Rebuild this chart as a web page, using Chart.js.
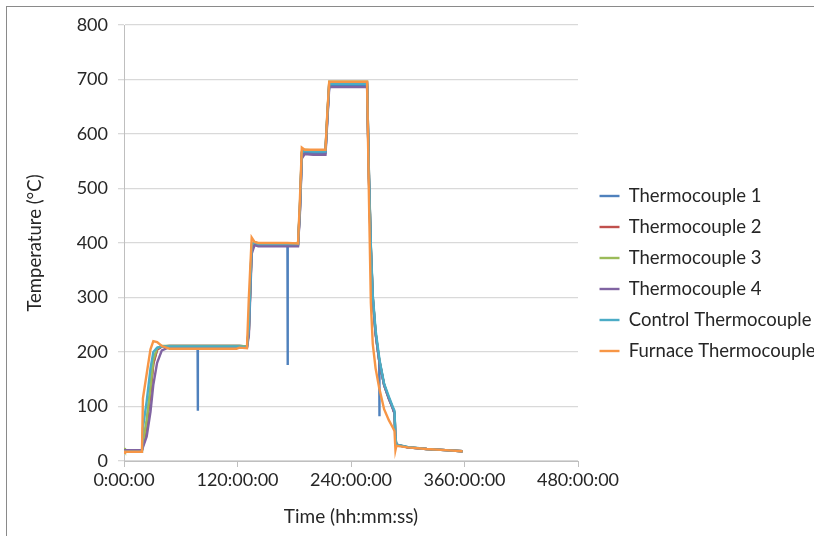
<!DOCTYPE html>
<html>
<head>
<meta charset="utf-8">
<script src="https://cdn.jsdelivr.net/npm/chart.js@4"></script>
<style>
  html, body { margin: 0; padding: 0; background: #fff; overflow: hidden; }
  #frame { position: absolute; left: 6px; top: 6px; width: 900px; height: 600px; border: 1px solid #8a8a8a; }
  #wrap { position: absolute; left: 0; top: 0; width: 814px; height: 536px; }
</style>
</head>
<body>
<div id="frame"></div>
<div id="wrap"><canvas id="tempChart" width="814" height="536"></canvas></div>
<script>
// time axis in hours (shared by all series)
const hours = [0, 1, 19, 20, 24, 28, 31, 35, 40, 48,
  60, 77.8, 78, 78.2, 119, 122, 130, 132, 135, 138,
  142, 172.8, 173, 173.2, 184, 186, 188, 191, 200, 213,
  215, 217, 257, 259, 261, 263, 266, 269.8, 270, 270.2,
  275, 280, 284, 286, 287, 288, 300, 320, 340, 358];

const seriesNames = ['Thermocouple 1', 'Thermocouple 2', 'Thermocouple 3', 'Thermocouple 4', 'Control Thermocouple', 'Furnace Thermocouple'];
const seriesColors = ['#4F81BD', '#C0504D', '#9BBB59', '#8064A2', '#4BACC6', '#F79646'];

const tc1 = [20, 20, 20, 30, 70, 130, 180, 205, 210, 211,
  211, 211, 92, 211, 211, 211, 210, 240, 390, 399,
  396, 396, 176, 396, 396, 460, 560, 566, 565, 565,
  630, 690, 690, 520, 390, 300, 235, 185, 82, 183,
  140, 115, 98, 88, 40, 30, 25, 22, 20, 18];
const tc2 = [20, 20, 20, 28, 65, 125, 178, 204, 210, 211,
  211, 211, 211, 211, 211, 211, 210, 238, 392, 401,
  398, 398, 398, 398, 398, 462, 565, 570, 569, 569,
  632, 694, 694, 520, 390, 300, 235, 185, 184, 183,
  140, 115, 98, 88, 40, 30, 25, 22, 20, 18];
const tc3 = [24, 20, 20, 32, 75, 135, 185, 207, 211, 211,
  211, 211, 211, 211, 211, 211, 210, 240, 395, 402,
  399, 399, 399, 399, 399, 465, 568, 571, 570, 570,
  635, 696, 696, 520, 390, 300, 235, 185, 184, 183,
  140, 115, 98, 88, 40, 30, 25, 22, 20, 18];
const tc4 = [20, 20, 20, 25, 45, 90, 140, 180, 203, 209,
  209, 209, 209, 209, 209, 209, 208, 230, 380, 396,
  394, 394, 394, 394, 394, 455, 555, 563, 562, 562,
  625, 686, 686, 515, 385, 298, 233, 184, 183, 182,
  139, 114, 97, 87, 40, 30, 25, 22, 20, 18];
const control = [17, 17, 17, 60, 110, 170, 200, 208, 210, 210,
  210, 210, 210, 210, 210, 210, 209, 245, 398, 401,
  398, 398, 398, 398, 398, 468, 566, 569, 568, 568,
  635, 692, 692, 525, 395, 305, 240, 190, 188, 186,
  142, 118, 100, 92, 45, 30, 26, 22, 20, 18];
const furnace = [15, 17, 17, 115, 160, 205, 220, 218, 211, 206,
  206, 206, 206, 206, 206, 208, 207, 300, 410, 402,
  400, 400, 400, 400, 399, 480, 575, 571, 571, 571,
  640, 696, 696, 480, 290, 215, 170, 134, 133, 132,
  95, 75, 62, 55, 20, 28, 25, 22, 20, 18];

const xTickLabels = ['0:00:00', '120:00:00', '240:00:00', '360:00:00', '480:00:00'];
const yTicks = [0, 100, 200, 300, 400, 500, 600, 700, 800];

const allSeries = [tc1, tc2, tc3, tc4, control, furnace];
const FONT = 'Lato, "Open Sans", sans-serif';
const TEXT = '#262626';

// nudge the legend a bit to the right of the plot (and slightly up)
const legendShift = {
    id: 'legendShift',
    afterLayout: function (chart) {
        if (chart.legend) {
            chart.legend.left += 9;
            chart.legend.right += 9;
            chart.legend.top -= 3;
            chart.legend.bottom -= 3;
        }
    }
};

document.addEventListener('DOMContentLoaded', function () {
    const ctx = document.getElementById('tempChart');

    const datasets = allSeries.map(function (vals, i) {
        return {
            label: seriesNames[i],
            data: vals.map(function (v, k) { return { x: hours[k], y: v }; }),
            borderColor: seriesColors[i],
            backgroundColor: seriesColors[i],
            borderWidth: 2.4,
            pointRadius: 0,
            pointStyle: 'line',
            tension: 0,
            order: allSeries.length - 1 - i // later series drawn on top, like Excel
        };
    });

    new Chart(ctx, {
        type: 'line',
        data: { datasets: datasets },
        plugins: [legendShift],
        options: {
            responsive: false,
            animation: false,
            layout: { padding: { left: 24, top: 25, right: 0, bottom: 8 } },
            scales: {
                x: {
                    type: 'linear',
                    min: 0,
                    max: 480,
                    afterBuildTicks: function (scale) {
                        scale.ticks = xTickLabels.map(function (_, i) { return { value: i * 120 }; });
                    },
                    afterFit: function (scale) { scale.height = 67; },
                    ticks: {
                        callback: function (v, i) { return xTickLabels[i]; },
                        color: TEXT,
                        font: { family: FONT, size: 18 },
                        padding: 2,
                        maxRotation: 0
                    },
                    grid: { drawOnChartArea: false, drawTicks: true, tickLength: 6, color: '#bfbfbf' },
                    border: { color: '#bfbfbf' },
                    title: {
                        display: true,
                        text: 'Time (hh:mm:ss)',
                        color: TEXT,
                        font: { family: FONT, size: 19 },
                        padding: { top: 4, bottom: 0 }
                    }
                },
                y: {
                    min: 0,
                    max: 800,
                    afterBuildTicks: function (scale) {
                        scale.ticks = yTicks.map(function (v) { return { value: v }; });
                    },
                    afterFit: function (scale) { scale.width = 100; },
                    ticks: {
                        color: TEXT,
                        font: { family: FONT, size: 18 },
                        padding: 10
                    },
                    grid: { color: '#d9d9d9', tickLength: 6, lineWidth: 1.3 },
                    border: { color: '#bfbfbf' },
                    title: {
                        display: true,
                        text: 'Temperature (°C)',
                        color: TEXT,
                        font: { family: FONT, size: 18.5 },
                        padding: { top: 0, bottom: 0 }
                    }
                }
            },
            plugins: {
                legend: {
                    display: true,
                    position: 'right',
                    align: 'center',
                    maxWidth: 236,
                    labels: {
                        usePointStyle: true,
                        pointStyleWidth: 20,
                        boxHeight: 2,
                        padding: 12.5,
                        color: TEXT,
                        font: { family: FONT, size: 18.5 },
                        sort: function (a, b) { return a.datasetIndex - b.datasetIndex; }
                    }
                },
                tooltip: { enabled: false }
            }
        }
    });
});
</script>
</body>
</html>
